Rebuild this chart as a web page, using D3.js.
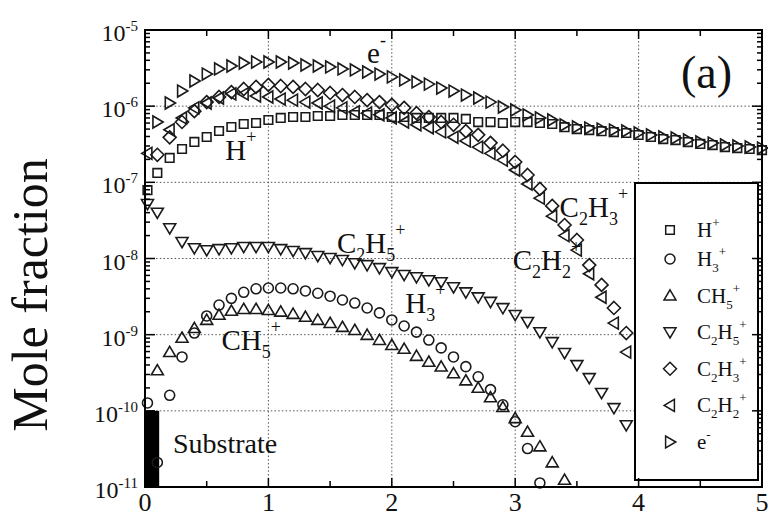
<!DOCTYPE html>
<html>
<head>
<meta charset="utf-8">
<script src="https://cdn.jsdelivr.net/npm/d3@7"></script>
<style>
  body { margin: 0; background: #fff; }
  svg { display: block; font-family: 'Liberation Serif', 'Times New Roman', serif; }
</style>
</head>
<body>
<div id="chart"></div>
<script>
// distance from substrate (x) shared by every series
const xs = [0.02, 0.1, 0.2, 0.3, 0.4, 0.5, 0.6, 0.7, 0.8, 0.9, 1.0,
  1.1, 1.2, 1.3, 1.4, 1.5, 1.6, 1.7, 1.8, 1.9, 2.0,
  2.1, 2.2, 2.3, 2.4, 2.5, 2.6, 2.7, 2.8, 2.9, 3.0,
  3.1, 3.2, 3.3, 3.4, 3.5, 3.6, 3.7, 3.8, 3.9, 4.0,
  4.1, 4.2, 4.3, 4.4, 4.5, 4.6, 4.7, 4.8, 4.9, 5.0];

const hPlus = [7.9e-8, 1.33e-7, 2.09e-7, 2.74e-7, 3.39e-7, 3.94e-7, 4.72e-7, 5.33e-7, 5.83e-7, 6.01e-7, 6.58e-7,
  7.0e-7, 7.21e-7, 7.21e-7, 7.43e-7, 7.43e-7, 7.66e-7, 7.66e-7, 7.66e-7, 7.66e-7, 7.21e-7,
  7.21e-7, 7.0e-7, 7.0e-7, 7.0e-7, 7.0e-7, 6.79e-7, 6.19e-7, 6.19e-7, 6.01e-7, 6.19e-7,
  6.19e-7, 6.01e-7, 5.83e-7, 5.3e-7, 5.0e-7, 4.85e-7, 4.7e-7, 4.57e-7, 4.44e-7, 4.18e-7,
  3.94e-7, 3.7e-7, 3.59e-7, 3.38e-7, 3.19e-7, 3.08e-7, 2.9e-7, 2.82e-7, 2.74e-7, 2.65e-7];

const h3Plus = [1.27e-10, 2.1e-11, 1.6e-10, 5.1e-10, 1.05e-9, 1.76e-9, 2.45e-9, 3.0e-9, 3.6e-9, 4.0e-9, 4.1e-9,
  4.1e-9, 4.0e-9, 3.75e-9, 3.5e-9, 3.2e-9, 2.85e-9, 2.6e-9, 2.24e-9, 1.93e-9, 1.56e-9,
  1.3e-9, 1.08e-9, 8.5e-10, 6.7e-10, 5.1e-10, 3.8e-10, 2.8e-10, 1.9e-10, 1.2e-10, 7.2e-11,
  3.2e-11, 1.13e-11];

const ch5Plus = [null, 3.4e-10, 5.9e-10, 9.1e-10, 1.22e-9, 1.56e-9, 1.82e-9, 2.05e-9, 2.17e-9, 2.17e-9, 2.1e-9,
  2.0e-9, 1.87e-9, 1.71e-9, 1.56e-9, 1.42e-9, 1.26e-9, 1.15e-9, 9.9e-10, 8.5e-10, 7.3e-10,
  6.5e-10, 5.25e-10, 4.4e-10, 3.8e-10, 3.1e-10, 2.5e-10, 2.0e-10, 1.5e-10, 1.12e-10, 8.0e-11,
  5.3e-11, 3.4e-11, 2.1e-11, 1.24e-11];

const c2h5Plus = [5.2e-8, 4.0e-8, 2.5e-8, 1.65e-8, 1.37e-8, 1.29e-8, 1.33e-8, 1.37e-8, 1.42e-8, 1.42e-8, 1.42e-8,
  1.33e-8, 1.26e-8, 1.18e-8, 1.08e-8, 1.02e-8, 9.6e-9, 8.7e-9, 8.2e-9, 7.5e-9, 6.65e-9,
  6.1e-9, 5.7e-9, 5.2e-9, 4.9e-9, 4.2e-9, 3.6e-9, 3.1e-9, 2.7e-9, 2.24e-9, 1.82e-9,
  1.47e-9, 1.08e-9, 8.0e-10, 5.75e-10, 4.0e-10, 2.7e-10, 1.72e-10, 1.09e-10, 6.5e-11];

const c2h3Plus = [null, 2.3e-7, 3.9e-7, 6.2e-7, 8.6e-7, 1.13e-6, 1.32e-6, 1.53e-6, 1.68e-6, 1.79e-6, 1.9e-6,
  1.84e-6, 1.79e-6, 1.68e-6, 1.63e-6, 1.49e-6, 1.4e-6, 1.32e-6, 1.2e-6, 1.13e-6, 1.04e-6,
  9.5e-7, 8.1e-7, 7.2e-7, 6.2e-7, 5.7e-7, 4.7e-7, 4.2e-7, 3.3e-7, 2.6e-7, 1.85e-7,
  1.25e-7, 8.2e-8, 4.9e-8, 2.75e-8, 1.75e-8, 8.2e-9, 4.5e-9, 2.24e-9, 1.05e-9];

const c2h2Plus = [2.4e-7, null, 4.9e-7, 7.0e-7, 9.5e-7, 1.1e-6, 1.28e-6, 1.45e-6, 1.45e-6, 1.36e-6, 1.32e-6,
  1.24e-6, 1.2e-6, 1.13e-6, 1.1e-6, 1.0e-6, 9.5e-7, 8.4e-7, 8.1e-7, 7.7e-7, 7.0e-7,
  6.2e-7, 5.7e-7, 5.2e-7, 4.6e-7, 3.9e-7, 3.5e-7, 2.9e-7, 2.4e-7, 1.96e-7, 1.45e-7,
  9.5e-8, 6.2e-8, 3.6e-8, 2.0e-8, 1.29e-8, 6.3e-9, 3.1e-9, 1.42e-9, 5.9e-10];

const electron = [null, 6.2e-7, 1.1e-6, 1.58e-6, 2.14e-6, 2.64e-6, 3.08e-6, 3.37e-6, 3.69e-6, 3.8e-6, 3.8e-6,
  3.8e-6, 3.69e-6, 3.47e-6, 3.37e-6, 3.27e-6, 3.08e-6, 2.99e-6, 2.81e-6, 2.64e-6, 2.42e-6,
  2.21e-6, 2.08e-6, 1.95e-6, 1.73e-6, 1.58e-6, 1.4e-6, 1.28e-6, 1.13e-6, 9.75e-7, 8.91e-7,
  7.66e-7, 7.0e-7, 6.58e-7, 5.66e-7, 5.33e-7, 5.16e-7, 5.01e-7, 4.86e-7, 4.72e-7, 4.45e-7,
  4.19e-7, 3.94e-7, 3.82e-7, 3.6e-7, 3.39e-7, 3.28e-7, 3.09e-7, 3.0e-7, 2.91e-7, 2.82e-7];

const seriesNames = ['H^+', 'H_3^+', 'CH_5^+', 'C_2H_5^+', 'C_2H_3^+', 'C_2H_2^+', 'e^-'];
const seriesSymbols = ['square', 'circle', 'up', 'down', 'diamond', 'left', 'right'];
const seriesValues = [hPlus, h3Plus, ch5Plus, c2h5Plus, c2h3Plus, c2h2Plus, electron];

const xTicks = [0, 1, 2, 3, 4, 5];
const yTickExps = [-11, -10, -9, -8, -7, -6, -5];
const substrate = {x0: 0, x1: 0.115, top: 1e-10};

const width = 768;
const height = 518;
const margin = {top: 30, right: 6, bottom: 31, left: 145};
const innerW = width - margin.left - margin.right;
const innerH = height - margin.top - margin.bottom;

const x = d3.scaleLinear().domain([0, 5]).range([margin.left, margin.left + innerW]);
const y = d3.scaleLog().domain([1e-11, 1e-5]).range([margin.top + innerH, margin.top]);

const svg = d3.select('#chart')
    .append('svg')
    .attr('width', width)
    .attr('height', height);

// chemical formula with _ subscripts and ^ superscripts
function chem(text, str, size, small, subDy, supDy) {
  const re = /([_^])\{([^}]*)\}|([_^])(.)|([^_^]+)/g;
  let m;
  let shift = 0;
  while ((m = re.exec(str)) !== null) {
    let kind = 'n';
    let s = m[5];
    if (m[1]) {
      kind = m[1]; s = m[2];
    } else if (m[3]) {
      kind = m[3]; s = m[4];
    }
    const want = kind === '_' ? subDy : (kind === '^' ? supDy : 0);
    text.append('tspan')
        .attr('dy', want - shift)
        .style('font-size', (kind === 'n' ? size : small) + 'px')
        .text(s);
    shift = want;
  }
}

function symbolPath(type) {
  switch (type) {
    case 'square': return 'M-4.3,-4.3h8.6v8.6h-8.6Z';
    case 'circle': return 'M5,0A5,5 0 1 1 -5,0A5,5 0 1 1 5,0Z';
    case 'up': return 'M0,-5.8L6,4.4L-6,4.4Z';
    case 'down': return 'M0,5.8L6,-4.4L-6,-4.4Z';
    case 'diamond': return 'M0,-6.5L6.5,0L0,6.5L-6.5,0Z';
    case 'left': return 'M-5.8,0L4.4,-6L4.4,6Z';
    default: return 'M5.8,0L-4.4,-6L-4.4,6Z';
  }
}

// grid
const grid = svg.append('g')
    .attr('stroke', '#555')
    .attr('stroke-width', 1)
    .attr('stroke-dasharray', '1.5,2.2');
grid.selectAll('.vg')
    .data(xTicks.slice(1, -1))
    .enter()
    .append('line')
    .attr('x1', function(d) {
      return x(d);
    })
    .attr('x2', function(d) {
      return x(d);
    })
    .attr('y1', y(1e-5))
    .attr('y2', y(1e-11));
grid.selectAll('.hg')
    .data(yTickExps.slice(1, -1))
    .enter()
    .append('line')
    .attr('x1', x(0))
    .attr('x2', x(5))
    .attr('y1', function(d) {
      return y(Math.pow(10, d));
    })
    .attr('y2', function(d) {
      return y(Math.pow(10, d));
    });

// substrate block
svg.append('rect')
    .attr('x', x(substrate.x0))
    .attr('y', y(substrate.top))
    .attr('width', x(substrate.x1) - x(substrate.x0))
    .attr('height', y(1e-11) - y(substrate.top))
    .attr('fill', '#000');

// markers
seriesValues.forEach(function(vals, i) {
  const pts = [];
  vals.forEach(function(v, j) {
    if (v !== null) pts.push({x: xs[j], v: v});
  });
  svg.append('g')
      .selectAll('path')
      .data(pts)
      .enter()
      .append('path')
      .attr('d', symbolPath(seriesSymbols[i]))
      .attr('transform', function(d) {
        return 'translate(' + x(d.x) + ',' + y(d.v) + ')';
      })
      .attr('fill', 'none')
      .attr('stroke', '#1a1a1a')
      .attr('stroke-width', 1.6);
});

// curve labels
const labels = [
  {t: 'e^-', x: 1.80, v: 3.7e-6},
  {t: 'H^+', x: 0.65, v: 1.96e-7},
  {t: 'C_2H_5^+', x: 1.555, v: 1.18e-8},
  {t: 'C_2H_3^+', x: 3.36, v: 3.5e-8},
  {t: 'C_2H_2^+', x: 2.98, v: 7.1e-9},
  {t: 'H_3^+', x: 2.11, v: 1.93e-9},
  {t: 'CH_5^+', x: 0.62, v: 6.3e-10}
];
labels.forEach(function(l) {
  const t = svg.append('text')
      .attr('x', x(l.x))
      .attr('y', y(l.v))
      .attr('fill', '#111');
  chem(t, l.t, 29, 18, 8, -17);
});

svg.append('text')
    .attr('x', x(0.227))
    .attr('y', y(2.8e-11))
    .style('font-size', '28px')
    .attr('fill', '#111')
    .text('Substrate');

svg.append('text')
    .attr('x', x(4.55))
    .attr('y', y(1.73e-6))
    .attr('text-anchor', 'middle')
    .style('font-size', '46px')
    .attr('fill', '#111')
    .text('(a)');

// legend
const legend = svg.append('g');
legend.append('rect')
    .attr('x', 635)
    .attr('y', 183)
    .attr('width', 123)
    .attr('height', 297)
    .attr('fill', '#fff')
    .attr('stroke', '#000')
    .attr('stroke-width', 2);
const item = legend.selectAll('.legend')
    .data(seriesNames)
    .enter()
    .append('g')
    .attr('class', 'legend')
    .attr('transform', function(d, i) {
      const ly = i === 0 ? 230 : 259 + (i - 1) * 36.6;
      return 'translate(670,' + ly + ')';
    });
item.append('path')
    .attr('d', function(d, i) {
      return symbolPath(seriesSymbols[i]);
    })
    .attr('fill', 'none')
    .attr('stroke', '#1a1a1a')
    .attr('stroke-width', 1.5);
item.append('text')
    .attr('x', 27)
    .attr('y', 7)
    .attr('fill', '#111')
    .each(function(d) {
      chem(d3.select(this), d, 21, 13, 6, -10);
    });

// frame and ticks
svg.append('rect')
    .attr('x', margin.left)
    .attr('y', margin.top)
    .attr('width', innerW)
    .attr('height', innerH)
    .attr('fill', 'none')
    .attr('stroke', '#000')
    .attr('stroke-width', 2);

const ticks = svg.append('g').attr('stroke', '#000').attr('stroke-width', 1.5);
const xt = [];
[0, 1, 2, 3, 4].forEach(function(k) {
  xt.push({v: k + 0.5, len: 6});
  if (k > 0) xt.push({v: k, len: 9});
});
xt.forEach(function(t) {
  ticks.append('line')
      .attr('x1', x(t.v)).attr('x2', x(t.v))
      .attr('y1', y(1e-11)).attr('y2', y(1e-11) - t.len);
  ticks.append('line')
      .attr('x1', x(t.v)).attr('x2', x(t.v))
      .attr('y1', y(1e-5)).attr('y2', y(1e-5) + t.len);
});
yTickExps.forEach(function(e) {
  for (let m = 1; m < 10; m++) {
    const v = m * Math.pow(10, e);
    if (v > 1e-5 || (e === -5 && m > 1)) break;
    const len = m === 1 ? 10 : 5;
    ticks.append('line')
        .attr('x1', x(0)).attr('x2', x(0) + len)
        .attr('y1', y(v)).attr('y2', y(v));
    ticks.append('line')
        .attr('x1', x(5)).attr('x2', x(5) - len)
        .attr('y1', y(v)).attr('y2', y(v));
  }
});

// tick labels
svg.selectAll('.xl')
    .data(xTicks)
    .enter()
    .append('text')
    .attr('x', function(d) {
      return x(d);
    })
    .attr('y', 511)
    .attr('text-anchor', 'middle')
    .style('font-size', '26px')
    .attr('fill', '#111')
    .text(function(d) {
      return d;
    });

svg.selectAll('.yl')
    .data(yTickExps)
    .enter()
    .append('text')
    .attr('x', 138)
    .attr('y', function(d) {
      return y(Math.pow(10, d)) + 11;
    })
    .attr('text-anchor', 'end')
    .attr('fill', '#111')
    .each(function(d) {
      chem(d3.select(this), '10^{' + d + '}', 24, 15, 0, -10);
    });

svg.append('text')
    .attr('transform', 'translate(47,295) rotate(-90)')
    .attr('text-anchor', 'middle')
    .style('font-size', '50px')
    .attr('fill', '#111')
    .text('Mole fraction');
</script>
</body>
</html>
